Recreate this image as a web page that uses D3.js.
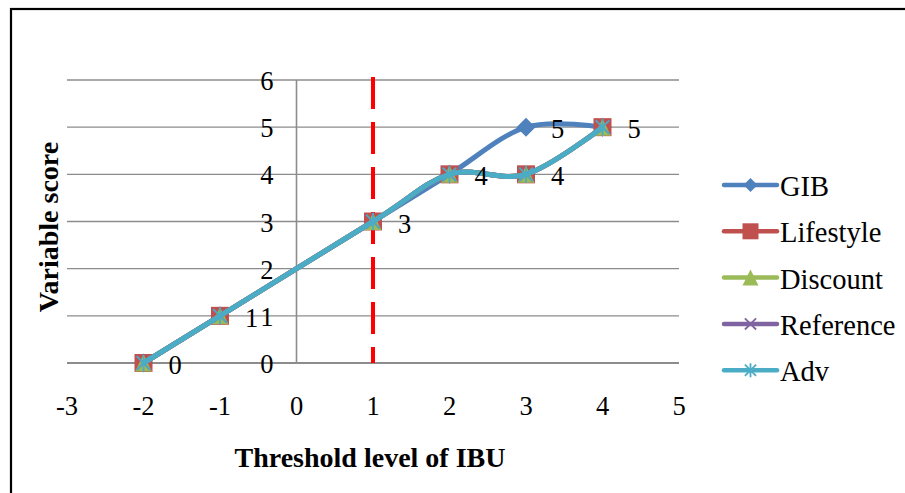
<!DOCTYPE html>
<html>
<head>
<meta charset="utf-8">
<script src="https://cdn.jsdelivr.net/npm/d3@7"></script>
<style>
  html, body { margin: 0; padding: 0; background: #fff; }
  svg { display: block; font-family: "Liberation Serif", "Times New Roman", serif; }
</style>
</head>
<body>
<svg id="chart" width="905" height="493"></svg>
<script>
// Threshold levels of IBU (x) and the score for each variable (y)
const thresholds = [-2, -1, 1, 2, 3, 4];
const seriesNames = ["GIB", "Lifestyle", "Discount", "Reference", "Adv"];
const gib       = [0, 1, 3, 4, 5, 5];
const lifestyle = [0, 1, 3, 4, 4, 5];
const discount  = [0, 1, 3, 4, 4, 5];
const reference = [0, 1, 3, 4, 4, 5];
const adv       = [0, 1, 3, 4, 4, 5];
const xTicks = [-3, -2, -1, 0, 1, 2, 3, 4, 5];
const yTicks = [0, 1, 2, 3, 4, 5, 6];
const cutoff = 1;   // dashed threshold marker

const colors = ["#4F81BD", "#C0504D", "#9BBB59", "#8064A2", "#4BACC6"];
const symbols = ["diamond", "square", "triangle", "cross", "star"];
const values = [gib, lifestyle, discount, reference, adv];

const svg = d3.select("#chart");

// outer frame (left and top edges visible)
svg.append("rect").attr("x", 11).attr("y", 9).attr("width", 1200).attr("height", 1200)
  .attr("fill", "none").attr("stroke", "#000").attr("stroke-width", 2.2);

const x = d3.scaleLinear().domain([-3, 5]).range([67, 679]);
const y = d3.scaleLinear().domain([0, 6]).range([363, 80]);

// horizontal gridlines
svg.append("g").selectAll("line").data(yTicks).join("line")
  .attr("x1", x(-3)).attr("x2", x(5))
  .attr("y1", d => y(d)).attr("y2", d => y(d))
  .attr("stroke", "#8c8c8c").attr("stroke-width", d => d === 0 ? 2 : 1.4);

// vertical axis at x = 0
svg.append("line").attr("x1", x(0)).attr("x2", x(0))
  .attr("y1", y(6)).attr("y2", y(0))
  .attr("stroke", "#8c8c8c").attr("stroke-width", 1.6);

// y tick labels beside the vertical axis
svg.append("g").selectAll("text").data(yTicks).join("text")
  .attr("x", x(0) - 23).attr("y", d => y(d) + 4)
  .attr("text-anchor", "end").attr("dominant-baseline", "middle")
  .attr("font-size", 26.5).text(d => d);

// x tick labels below the plot
svg.append("g").selectAll("text").data(xTicks).join("text")
  .attr("x", d => x(d)).attr("y", 415)
  .attr("text-anchor", "middle")
  .attr("font-size", 26.5).text(d => d);

// threshold line
svg.append("line").attr("x1", x(cutoff)).attr("x2", x(cutoff))
  .attr("y1", y(6) - 3).attr("y2", y(0))
  .attr("stroke", "#FF0000").attr("stroke-width", 4)
  .attr("stroke-dasharray", "32,13");

// axis titles
svg.append("text").attr("x", 370).attr("y", 467)
  .attr("text-anchor", "middle").attr("font-size", 28).attr("font-weight", "bold")
  .text("Threshold level of IBU");
svg.append("text").attr("transform", "translate(58,227) rotate(-90)")
  .attr("text-anchor", "middle").attr("font-size", 28).attr("font-weight", "bold")
  .text("Variable score");

// marker drawing
function drawMarker(g, type, color, size) {
  const h = size / 2;
  if (type === "diamond") {
    g.append("path").attr("d", `M0,${-h}L${h},0L0,${h}L${-h},0Z`).attr("fill", color);
  } else if (type === "square") {
    g.append("rect").attr("x", -h).attr("y", -h).attr("width", size).attr("height", size)
      .attr("fill", color);
  } else if (type === "triangle") {
    g.append("path").attr("d", `M0,${-h}L${h},${h}L${-h},${h}Z`).attr("fill", color);
  } else if (type === "cross") {
    const k = h * 0.8;
    g.append("path").attr("d", `M${-k},${-k}L${k},${k}M${-k},${k}L${k},${-k}`)
      .attr("stroke", color).attr("stroke-width", 1.8).attr("fill", "none");
  } else if (type === "star") {
    const k = h * 0.8;
    g.append("path").attr("d", `M${-k},${-k}L${k},${k}M${-k},${k}L${k},${-k}M0,${-h}L0,${h}`)
      .attr("stroke", color).attr("stroke-width", 1.8).attr("fill", "none");
  }
}

const line = d3.line()
  .x(d => x(d[0])).y(d => y(d[1]))
  .curve(d3.curveCardinal.tension(0));

const plot = svg.append("g");
seriesNames.forEach((name, i) => {
  const pts = thresholds.map((t, j) => [t, values[i][j]]);
  const g = plot.append("g");
  g.append("path").datum(pts).attr("d", line)
    .attr("fill", "none").attr("stroke", colors[i]).attr("stroke-width", 5)
    .attr("stroke-linecap", "round");
  pts.forEach(p => {
    const m = g.append("g").attr("transform", `translate(${x(p[0])},${y(p[1])})`);
    drawMarker(m, symbols[i], colors[i], i === 0 ? 19 : (i === 1 ? 18 : 17));
  });
});

// data labels: Adv at every point, GIB where it departs from Adv
const labelPts = [];
thresholds.forEach((t, j) => {
  labelPts.push([t, adv[j]]);
  if (gib[j] !== adv[j]) labelPts.push([t, gib[j]]);
});
svg.append("g").selectAll("text").data(labelPts).join("text")
  .attr("x", d => x(d[0]) + 25).attr("y", d => y(d[1]) + 5)
  .attr("dominant-baseline", "middle")
  .attr("font-size", 26.5).text(d => d[1]);

// legend
const legend = svg.append("g");
seriesNames.forEach((name, i) => {
  const ly = 185 + i * 46.3;
  legend.append("line").attr("x1", 724).attr("x2", 777).attr("y1", ly).attr("y2", ly)
    .attr("stroke", colors[i]).attr("stroke-width", 4.5).attr("stroke-linecap", "round");
  const m = legend.append("g").attr("transform", `translate(750.5,${ly})`);
  drawMarker(m, symbols[i], colors[i], i === 0 ? 14 : (i === 1 ? 16 : (i === 2 ? 16 : 14)));
  legend.append("text").attr("x", 780).attr("y", ly + 11)
    .attr("font-size", 28.5).text(name);
});
</script>
</body>
</html>
